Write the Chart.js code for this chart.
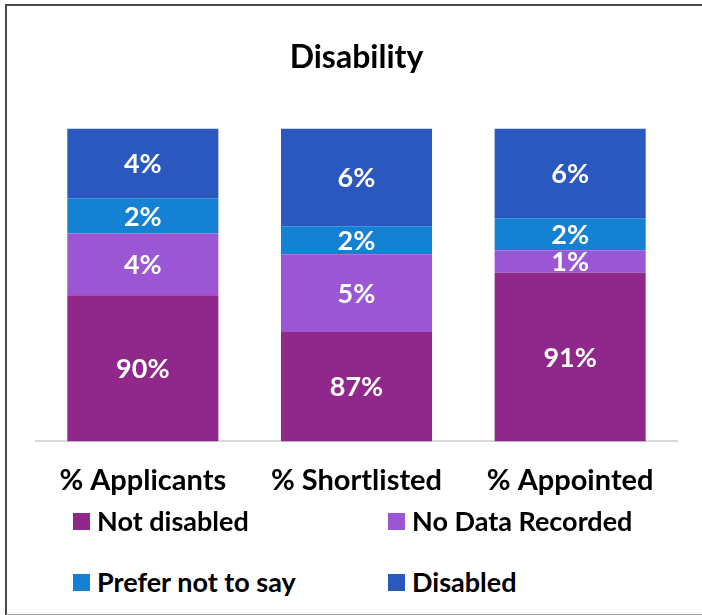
<!DOCTYPE html>
<html>
<head>
<meta charset="utf-8">
<script src="https://cdn.jsdelivr.net/npm/chart.js@4/dist/chart.umd.min.js"></script>
<style>
  html, body { margin: 0; padding: 0; background: #fff; }
  body { width: 702px; height: 615px; position: relative; overflow: hidden; font-family: Lato, "Open Sans", sans-serif; }
  .frame {
    position: absolute; left: 5px; top: 4px; width: 720px; height: 608px;
    border-top: 2px solid #4a4a4a; border-left: 2px solid #4a4a4a; border-bottom: 2px solid #a6a6a6;
  }
  .wrap { position: absolute; left: 0; top: 0; width: 702px; height: 522px; }
  .legend { position: absolute; left: 73px; top: 504px; width: 620px; }
  .legend .item {
    position: absolute; display: flex; align-items: center; line-height: 34px;
    font-weight: bold; font-size: 27px; color: #000; white-space: nowrap;
  }
  .legend .box { width: 17px; height: 17px; margin-right: 7px; }
</style>
</head>
<body>
<div class="frame"></div>
<div class="wrap"><canvas id="disability-chart"></canvas></div>
<div class="legend" id="legend"></div>
<script>
// Categories and series (percent of each group)
const categories = ['% Applicants', '% Shortlisted', '% Appointed'];
const notDisabled = [89.6, 87.3, 91.0];
const noDataRecorded = [3.85, 4.85, 1.4];
const preferNotToSay = [2.2, 1.75, 2.0];
const disabled = [4.35, 6.1, 5.6];

const seriesNames = ['Not disabled', 'No Data Recorded', 'Prefer not to say', 'Disabled'];
const seriesColors = ['#90278a', '#9b57d3', '#1581d3', '#2b58bf'];

const FONT = 'Lato, "Open Sans", sans-serif';

// Writes the rounded % in the middle of the visible part of each segment
const segmentLabels = {
    id: 'segmentLabels',
    afterDatasetsDraw(chart) {
        const ctx = chart.ctx;
        const area = chart.chartArea;
        ctx.save();
        ctx.fillStyle = '#fff';
        ctx.font = 'bold 27px ' + FONT;
        ctx.textAlign = 'center';
        ctx.textBaseline = 'middle';
        chart.data.datasets.forEach((ds, i) => {
            chart.getDatasetMeta(i).data.forEach((bar, j) => {
                const top = Math.max(bar.y, area.top);
                const bottom = Math.min(bar.base, area.bottom);
                ctx.fillText(Math.round(ds.data[j]) + '%', bar.x, (top + bottom) / 2 + 1);
            });
        });
        ctx.restore();
    }
};

const datasets = [notDisabled, noDataRecorded, preferNotToSay, disabled].map((data, i) => ({
    label: seriesNames[i],
    data: data,
    backgroundColor: seriesColors[i],
    borderWidth: 0,
    barPercentage: 0.707,
    categoryPercentage: 1
}));

const chart = new Chart(document.getElementById('disability-chart').getContext('2d'), {
    type: 'bar',
    data: { labels: categories, datasets: datasets },
    options: {
        responsive: true,
        maintainAspectRatio: false,
        animation: false,
        layout: { padding: { left: 36, right: 25, top: 0, bottom: 10 } },
        plugins: {
            legend: { display: false },
            tooltip: { enabled: false },
            title: {
                display: true,
                text: 'Disability',
                color: '#000',
                font: { family: FONT, size: 32, weight: 'bold', lineHeight: 1.2 },
                padding: { top: 38, bottom: 52 }
            }
        },
        scales: {
            x: {
                stacked: true,
                grid: { display: false },
                border: { display: true, color: '#d9d9d9', width: 2 },
                ticks: {
                    color: '#000',
                    padding: 14,
                    font: { family: FONT, size: 29, weight: 'bold' }
                }
            },
            y: {
                stacked: true,
                display: false,
                min: 80.5,
                max: 100
            }
        }
    },
    plugins: [segmentLabels]
});

// Two-column legend below the plot
const legendEl = document.getElementById('legend');
const spots = [[0, 0], [315, 0], [0, 61], [315, 61]];
chart.data.datasets.forEach((ds, i) => {
    const item = document.createElement('div');
    item.className = 'item';
    item.style.left = spots[i][0] + 'px';
    item.style.top = spots[i][1] + 'px';
    const box = document.createElement('span');
    box.className = 'box';
    box.style.background = ds.backgroundColor;
    item.appendChild(box);
    item.appendChild(document.createTextNode(ds.label));
    legendEl.appendChild(item);
});
</script>
</body>
</html>
